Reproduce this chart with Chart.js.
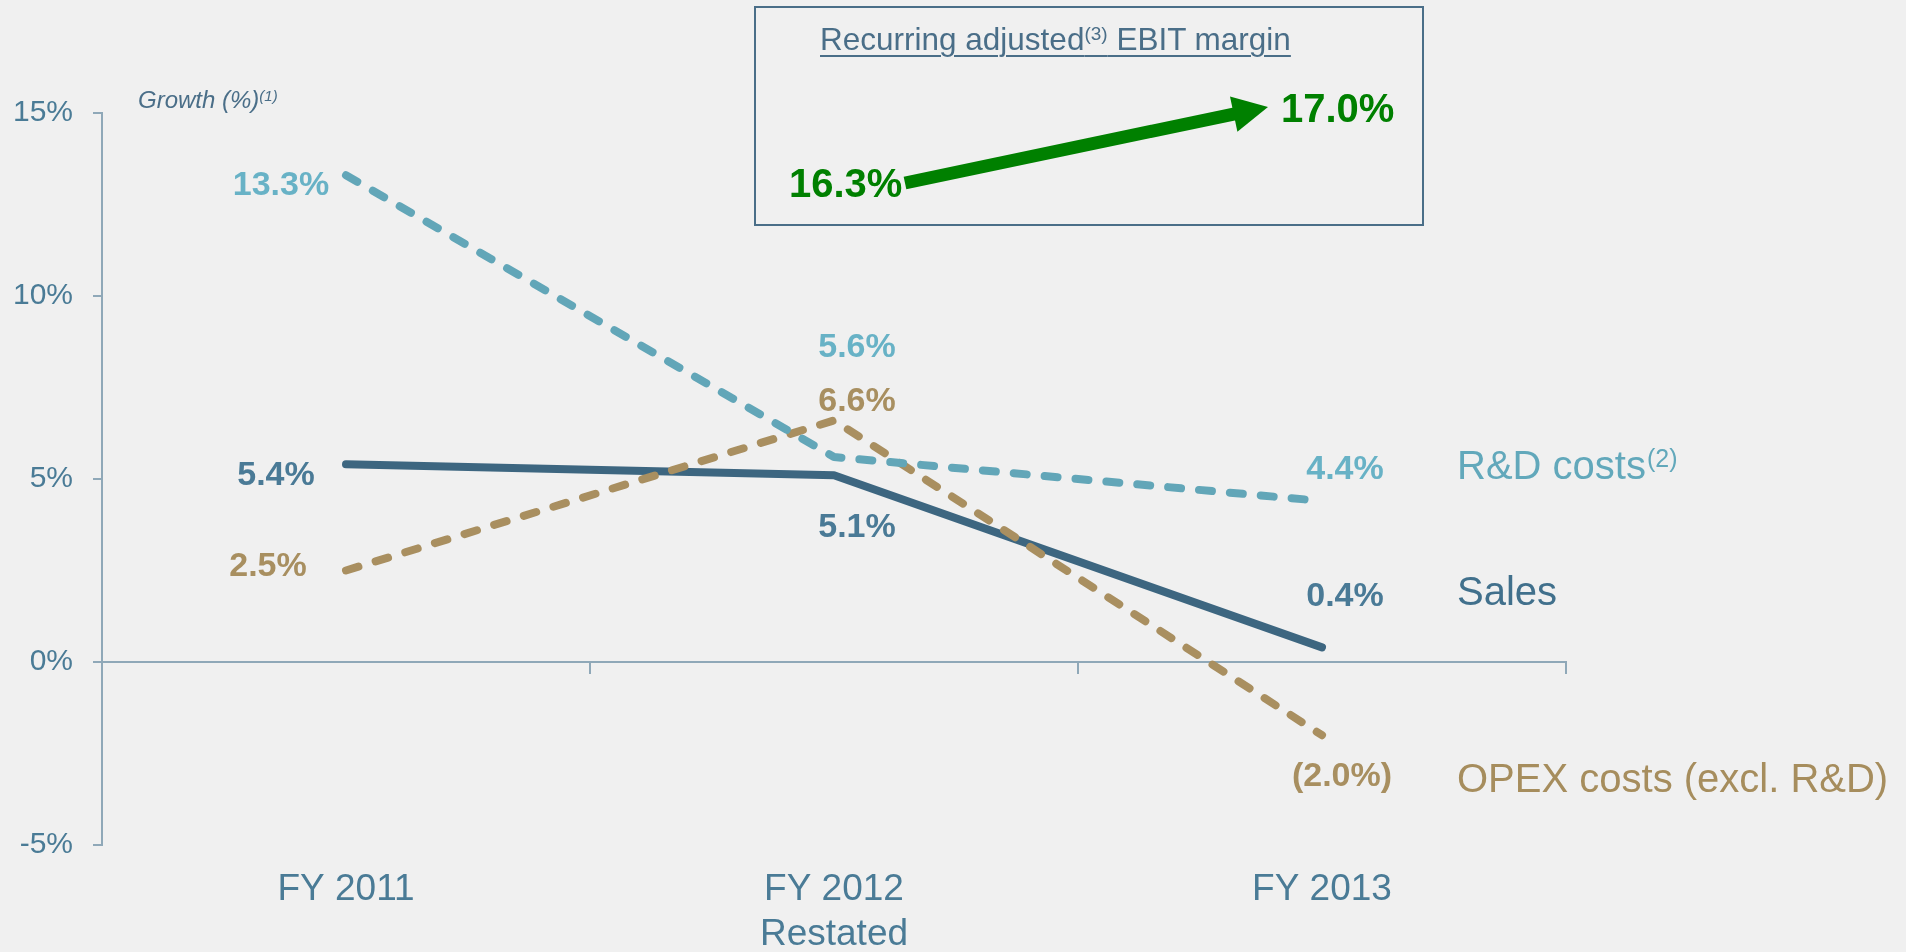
<!DOCTYPE html>
<html>
<head>
<meta charset="utf-8">
<script src="https://cdn.jsdelivr.net/npm/chart.js@4.4.1/dist/chart.umd.min.js"></script>
<style>
    html, body { margin: 0; padding: 0; background: #f0f0f0; }
    #wrap { position: relative; width: 1906px; height: 952px; font-family: "Liberation Sans", Arial, sans-serif; }
    #growth-chart { position: absolute; left: 0; top: 0; }
    .growth-title { position: absolute; left: 138px; top: 88px; font-size: 24px; line-height: 24px; font-style: italic; color: #4a6e88; white-space: nowrap; }
    .growth-title .sup { font-size: 15px; position: relative; top: -7px; }
    #ebit-box { position: absolute; left: 754px; top: 6px; width: 670px; height: 220px; box-sizing: border-box; border: 2px solid #4a6e88; }
    .ebit-title { position: absolute; left: 820px; top: 21px; font-size: 31.5px; line-height: 36px; color: #4a6e88; white-space: nowrap; text-decoration: underline; text-decoration-thickness: 2px; text-underline-offset: 5px; }
    .ebit-title .sup { font-size: 19px; position: relative; top: -10px; }
    .ebit-val { position: absolute; font-size: 40px; line-height: 40px; font-weight: bold; color: #008000; white-space: nowrap; }
    #ebit-arrow { position: absolute; left: 0; top: 0; }
</style>
</head>
<body>
<div id="wrap">
    <canvas id="growth-chart" width="1906" height="952"></canvas>
    <div class="growth-title">Growth (%)<span class="sup">(1)</span></div>
    <div id="ebit-box"></div>
    <div class="ebit-title">Recurring adjusted<span class="sup">(3)</span> EBIT margin</div>
    <div class="ebit-val" id="ebit-from" style="left:789px; top:163px;"></div>
    <div class="ebit-val" id="ebit-to" style="left:1281px; top:88px;"></div>
    <svg id="ebit-arrow" width="1906" height="240">
        <line x1="905" y1="183" x2="1236" y2="113.6" stroke="#008000" stroke-width="13" />
        <polygon points="1268,107 1230,96.6 1237.4,131.8" fill="#008000" />
    </svg>
</div>
<script>
// values (growth, %)
const categories = [['FY 2011'], ['FY 2012', 'Restated'], ['FY 2013']];
const salesGrowth = [5.4, 5.1, 0.4];
const rdGrowth = [13.3, 5.6, 4.4];
const opexGrowth = [2.5, 6.6, -2.0];
const yTicks = [-5, 0, 5, 10, 15];
const ebitMargin = [16.3, 17.0];

// label offsets from each point, px [dx, dy]
const salesLabelPos = [[-70, 11], [23, 52], [23, -51]];
const rdLabelPos = [[-65, 10], [23, -109], [23, -31]];
const opexLabelPos = [[-78, -4], [23, -19], [20, 41]];

const AXIS_COLOR = '#8fa8b8';
const TICK_COLOR = '#4a7b96';
const FONT = '"Liberation Sans", Arial, sans-serif';

function fmtPct(v) {
    const s = Math.abs(v).toFixed(1) + '%';
    return v < 0 ? `(${s})` : s;
}

document.getElementById('ebit-from').textContent = fmtPct(ebitMargin[0]);
document.getElementById('ebit-to').textContent = fmtPct(ebitMargin[1]);

const series = [
    { label: 'R&D costs', sup: '(2)', data: rdGrowth, line: '#62a6b8', text: '#68b2c6', name: '#62a8bb', dash: [13, 18], pos: rdLabelPos, nameDy: -22 },
    { label: 'OPEX costs (excl. R&D)', sup: '', data: opexGrowth, line: '#a98f60', text: '#a88f60', name: '#a68d5d', dash: [13, 18], pos: opexLabelPos, nameDy: 57 },
    { label: 'Sales', sup: '', data: salesGrowth, line: '#3d6680', text: '#4a7a96', name: '#41708c', dash: [], pos: salesLabelPos, nameDy: -42 },
];

const labelPlugin = {
    id: 'growthLabels',
    afterDatasetsDraw(chart) {
        const { ctx, chartArea } = chart;
        ctx.save();
        chart.data.datasets.forEach((ds, i) => {
            const meta = chart.getDatasetMeta(i);
            const s = series[i];
            meta.data.forEach((pt, j) => {
                const [dx, dy] = s.pos[j];
                ctx.font = `bold 34px ${FONT}`;
                ctx.fillStyle = s.text;
                ctx.textAlign = 'center';
                ctx.textBaseline = 'middle';
                ctx.fillText(fmtPct(ds.data[j]), pt.x + dx, pt.y + dy);
            });
            // series name on the right
            const last = meta.data[meta.data.length - 1];
            const nx = chartArea.right - 109;
            const ny = last.y + s.nameDy;
            ctx.font = `40px ${FONT}`;
            ctx.fillStyle = s.name;
            ctx.textAlign = 'left';
            ctx.textBaseline = 'alphabetic';
            ctx.fillText(s.label, nx, ny);
            if (s.sup) {
                const w = ctx.measureText(s.label).width;
                ctx.font = `25px ${FONT}`;
                ctx.fillText(s.sup, nx + w + 1, ny - 12);
            }
        });
        ctx.restore();
    },
};

new Chart(document.getElementById('growth-chart'), {
    type: 'line',
    data: {
        labels: categories,
        datasets: series.map((s) => ({
            label: s.label,
            data: s.data,
            borderColor: s.line,
            borderWidth: 8,
            borderDash: s.dash,
            borderCapStyle: 'round',
            borderJoinStyle: 'round',
            pointRadius: 0,
            tension: 0,
            fill: false,
        })),
    },
    options: {
        responsive: false,
        animation: false,
        devicePixelRatio: 1,
        layout: { padding: { top: 113, right: 340, bottom: 0, left: 0 } },
        plugins: { legend: { display: false }, tooltip: { enabled: false } },
        scales: {
            y: {
                position: 'left',
                min: -5,
                max: 15,
                afterBuildTicks: (scale) => {
                    scale.ticks = yTicks.map((v) => ({ value: v }));
                },
                afterFit: (scale) => {
                    scale.width = 102;
                },
                border: { display: true, color: AXIS_COLOR, width: 2 },
                grid: { drawOnChartArea: false, drawTicks: true, tickLength: 9, color: AXIS_COLOR, lineWidth: 2 },
                ticks: {
                    padding: 20,
                    color: TICK_COLOR,
                    font: { family: FONT, size: 30 },
                    callback: (v) => `${v}%`,
                },
            },
            x: {
                type: 'category',
                position: { y: 0 },
                offset: true,
                border: { display: true, color: AXIS_COLOR, width: 2 },
                grid: { offset: true, drawOnChartArea: false, drawTicks: true, tickLength: 11, color: AXIS_COLOR, lineWidth: 2 },
                ticks: { display: false },
            },
            x2: {
                type: 'category',
                labels: categories,
                position: 'bottom',
                offset: true,
                afterFit: (scale) => {
                    scale.height = 107;
                },
                border: { display: false },
                grid: { display: false, drawTicks: false },
                ticks: {
                    padding: 23,
                    color: TICK_COLOR,
                    maxRotation: 0,
                    font: { family: FONT, size: 37, lineHeight: 1.2 },
                },
            },
        },
    },
    plugins: [labelPlugin],
});
</script>
</body>
</html>
